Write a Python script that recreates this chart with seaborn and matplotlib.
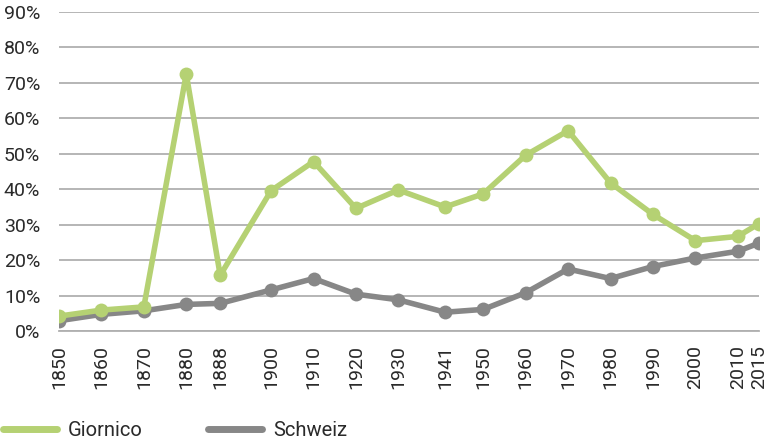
import pandas as pd
import seaborn as sns
import matplotlib.pyplot as plt
from matplotlib.lines import Line2D
from matplotlib.ticker import PercentFormatter

years = [1850, 1860, 1870, 1880, 1888, 1900, 1910, 1920, 1930, 1941,
         1950, 1960, 1970, 1980, 1990, 2000, 2010, 2015]
giornico = [4.2, 5.9, 6.8, 72.5, 15.7, 39.6, 47.8, 34.6, 39.8, 35.0,
            38.7, 49.6, 56.5, 41.8, 32.9, 25.5, 26.7, 30.3]
schweiz = [2.9, 4.7, 5.7, 7.5, 7.8, 11.6, 14.8, 10.4, 8.8, 5.3,
           6.1, 10.8, 17.5, 14.8, 18.2, 20.6, 22.5, 24.8]
series = ["Giornico", "Schweiz"]
colors = ["#b5d173", "#878787"]

df = pd.DataFrame({"year": years * 2,
                   "value": giornico + schweiz,
                   "series": [series[0]] * len(years) + [series[1]] * len(years)})

sns.set_style("white")
plt.rcParams["font.family"] = ["Roboto", "DejaVu Sans"]

fig = plt.figure(figsize=(7.68, 4.4), dpi=100)
ax = fig.add_axes([0.0768, 0.2477, 0.9115, 0.725])

# gray first so green sits on top
sns.lineplot(data=df, x="year", y="value", hue="series", hue_order=series[::-1],
             palette=colors[::-1], marker="o", markersize=10, markeredgewidth=0,
             linewidth=4, ax=ax, legend=False)

ax.set_xlim(1850, 2015)
ax.set_ylim(0, 90)
ax.set_yticks(range(0, 91, 10))
ax.yaxis.set_major_formatter(PercentFormatter(decimals=0))
ax.set_xticks(years)
ax.set_xticklabels([str(y) for y in years], rotation=90)
ax.set_xlabel("")
ax.set_ylabel("")
ax.grid(axis="y", color="#b0b0b0", linewidth=1.3)
ax.set_axisbelow(True)
for s in ["left", "right", "top"]:
    ax.spines[s].set_visible(False)
ax.spines["bottom"].set_color("#b0b0b0")
ax.spines["bottom"].set_linewidth(1.3)
ax.tick_params(axis="x", length=6, width=1.3, color="#b0b0b0", labelsize=14,
               labelcolor="#2a2a2a", pad=4)
ax.tick_params(axis="y", length=0, labelsize=14, labelcolor="#2a2a2a", pad=13.5)

handles = [Line2D([], [], color=c, linewidth=5) for c in colors]
fig.legend(handles, series, loc="lower left", bbox_to_anchor=(-0.02, -0.042),
           ncol=2, frameon=False, fontsize=14.5, handlelength=2.7,
           columnspacing=3.2, handletextpad=0.55, labelcolor="#2a2a2a")

fig.savefig("out.png", dpi=100)
